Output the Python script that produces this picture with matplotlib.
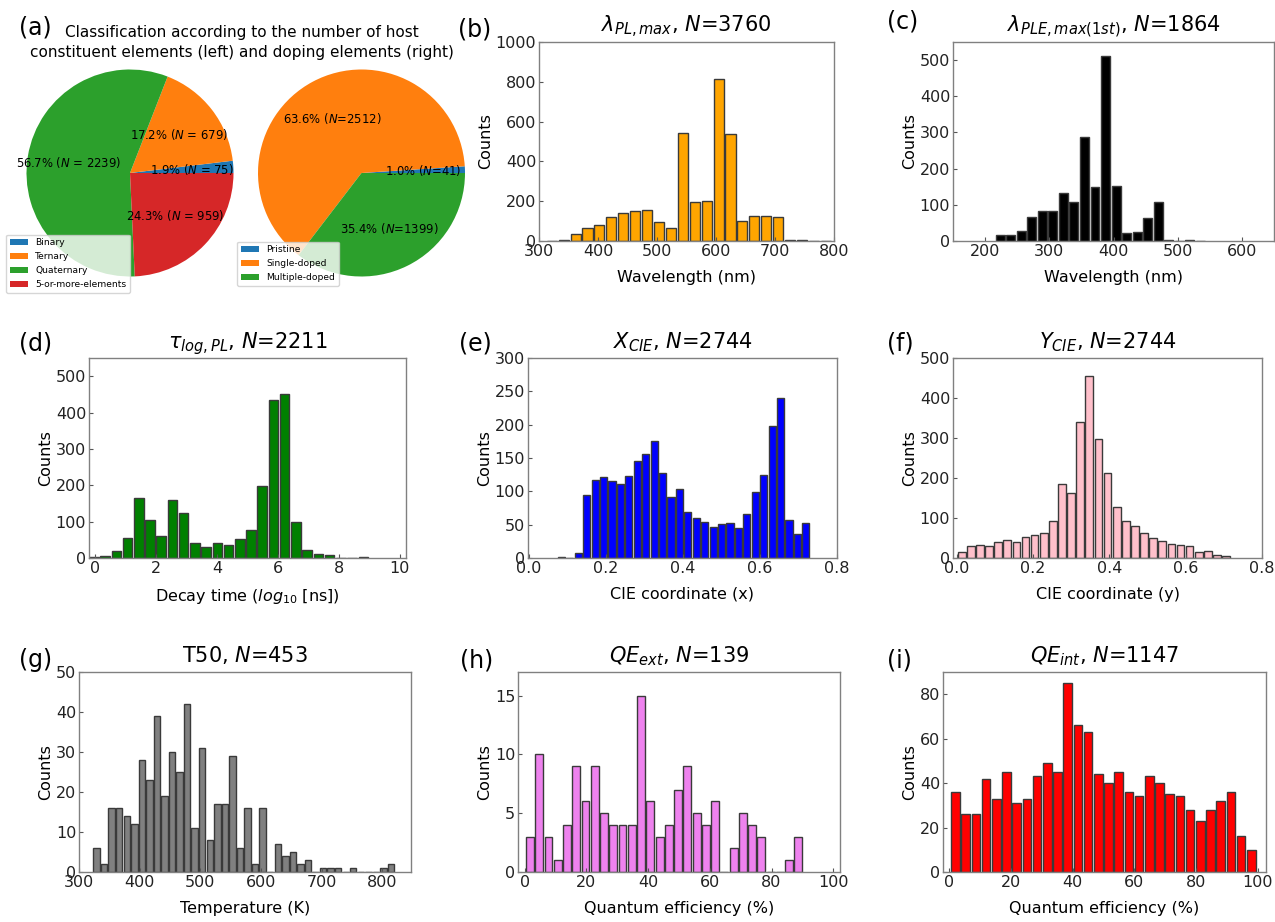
import numpy as np
import matplotlib
matplotlib.use("Agg")
import matplotlib.pyplot as plt

# (a) pie data
host_labels = ["Binary", "Ternary", "Quaternary", "5-or-more-elements"]
host_counts = [75, 679, 2239, 959]
dope_labels = ["Pristine", "Single-doped", "Multiple-doped"]
dope_counts = [41, 2512, 1399]

# histogram counts (bin start, bin width, counts)
pl_start, pl_width = 311.5, 20.2
pl_counts = [2, 5, 33, 63, 80, 120, 142, 153, 157, 95, 65, 543, 196, 202, 813, 540,
             98, 127, 124, 123, 5, 3, 2, 2]

ple_start, ple_width = 215.4, 16.4
ple_counts = [17, 17, 28, 65, 84, 84, 134, 107, 287, 150, 510, 152, 21, 25, 63, 109,
              3, 0, 3, 1]

tau_start, tau_width = -0.215, 0.368
tau_counts = [3, 6, 20, 55, 165, 105, 60, 160, 125, 42, 30, 40, 35, 52, 77, 198, 435,
              452, 100, 22, 10, 7, 0, 0, 4]

cx_start, cx_width = 0.0730, 0.0219
cx_counts = [2, 0, 8, 94, 117, 122, 115, 111, 123, 145, 156, 176, 127, 92, 104, 69, 60,
             54, 47, 51, 53, 45, 66, 99, 124, 198, 240, 57, 36, 53]

cy_start, cy_width = 0.0008, 0.0239
cy_counts = [14, 30, 33, 29, 41, 45, 41, 52, 58, 62, 93, 185, 163, 340, 455, 297, 212,
             128, 93, 79, 62, 50, 43, 36, 32, 29, 14, 17, 8, 4]

t50_start, t50_width = 322.7, 12.44
t50_counts = [6, 2, 16, 16, 14, 12, 28, 23, 39, 19, 30, 25, 42, 11, 31, 8, 17, 17, 29, 6,
              16, 2, 16, 0, 7, 4, 5, 2, 3, 0, 1, 1, 1, 0, 1, 0, 0, 0, 1, 2]

qext_start, qext_width = 0.2, 3.0
qext_counts = [3, 10, 3, 1, 4, 9, 6, 9, 5, 4, 4, 4, 15, 6, 3, 4, 7, 9, 5, 4, 6, 0, 2, 5,
               4, 3, 0, 0, 1, 3]

qint_start, qint_width = 0.29, 3.31
qint_counts = [36, 26, 26, 42, 33, 45, 31, 33, 43, 49, 45, 85, 66, 63, 44, 40, 45, 36, 34,
               43, 40, 35, 34, 28, 23, 28, 32, 36, 16, 10]

W, H = 1275, 922
fig = plt.figure(figsize=(W / 100, H / 100), dpi=100)


def px_axes(x0, y0, x1, y1):
    return fig.add_axes([x0 / W, 1 - y1 / H, (x1 - x0) / W, (y1 - y0) / H])


def panel_label(x, y, s):
    fig.text(x / W, 1 - y / H, s, fontsize=17, ha="left", va="center")


def hist_panel(box, start, width, counts, color, title, xlabel, xlim, ylim, xticks, yticks):
    ax = px_axes(*box)
    n = len(counts)
    centers = start + width * (np.arange(n) + 0.5)
    ax.bar(centers, counts, width=width * 0.85, color=color,
           edgecolor="#3a3a3a", linewidth=1.0)
    ax.set_xlim(*xlim)
    ax.set_ylim(*ylim)
    ax.set_xticks(xticks)
    ax.set_yticks(yticks)
    ax.set_title(title, fontsize=15, pad=7)
    ax.set_xlabel(xlabel, fontsize=11.5, labelpad=8)
    ax.set_ylabel("Counts", fontsize=11.5, labelpad=2)
    ax.tick_params(direction="in", length=3, color="#555555", labelsize=11.5,
                   labelcolor="#222222", pad=2)
    for sp in ax.spines.values():
        sp.set_color("#808080")
        sp.set_linewidth(1.0)
    return ax


# (a) pies
def pie_fmt(total, spaced):
    def f(pct):
        n = int(round(pct * total / 100.0))
        if spaced:
            return "%.1f%% ($N$ = %d)" % (pct, n)
        return "%.1f%% ($N$=%d)" % (pct, n)
    return f


ax1 = px_axes(26.5, 69.5, 233.5, 276.5)
w1, _, _ = ax1.pie(host_counts, startangle=0, autopct=pie_fmt(sum(host_counts), True),
                   pctdistance=0.6, textprops={"fontsize": 8.4})
ax1.set_xlim(-1, 1)
ax1.set_ylim(-1, 1)
ax1.set_aspect("equal")
fig.legend(w1, host_labels, loc="lower left", bbox_to_anchor=(6 / W, 1 - 293 / H),
           bbox_transform=fig.transFigure, fontsize=6.6, borderaxespad=0,
           handlelength=2.0, labelspacing=0.55)

ax2 = px_axes(258, 69.5, 465, 276.5)
w2, _, _ = ax2.pie(dope_counts, startangle=0, autopct=pie_fmt(sum(dope_counts), False),
                   pctdistance=0.6, textprops={"fontsize": 8.4})
ax2.set_xlim(-1, 1)
ax2.set_ylim(-1, 1)
ax2.set_aspect("equal")
fig.legend(w2, dope_labels, loc="lower left", bbox_to_anchor=(237 / W, 1 - 286 / H),
           bbox_transform=fig.transFigure, fontsize=6.6, borderaxespad=0,
           handlelength=2.0, labelspacing=0.55)

fig.text(242 / W, 1 - 32 / H, "Classification according to the number of host",
         fontsize=11, ha="center", va="center")
fig.text(242 / W, 1 - 53 / H, "constituent elements (left) and doping elements (right)",
         fontsize=11, ha="center", va="center")

# histograms
hist_panel((539, 42, 834, 241), pl_start, pl_width, pl_counts, "orange",
           r"$\lambda_{PL,max}$, $N$=3760", "Wavelength (nm)",
           (300, 800), (0, 1000), range(300, 801, 100), range(0, 1001, 200))
hist_panel((953, 42, 1274, 241), ple_start, ple_width, ple_counts, "black",
           r"$\lambda_{PLE,max(1st)}$, $N$=1864", "Wavelength (nm)",
           (150, 650), (0, 550), range(200, 601, 100), range(0, 501, 100))
hist_panel((89, 358, 406, 558), tau_start, tau_width, tau_counts, "green",
           r"$\tau_{log,PL}$, $N$=2211", r"Decay time ($log_{10}$ [ns])",
           (-0.19, 10.2), (0, 550), range(0, 11, 2), range(0, 501, 100))
hist_panel((528, 358, 837, 558), cx_start, cx_width, cx_counts, "blue",
           r"$X_{CIE}$, $N$=2744", "CIE coordinate (x)",
           (-0.003, 0.8), (0, 300), np.arange(0, 0.81, 0.2), range(0, 301, 50))
hist_panel((953, 358, 1262, 558), cy_start, cy_width, cy_counts, "pink",
           r"$Y_{CIE}$, $N$=2744", "CIE coordinate (y)",
           (-0.01, 0.8), (0, 500), np.arange(0, 0.81, 0.2), range(0, 501, 100))
hist_panel((79, 672, 411, 872), t50_start, t50_width, t50_counts, "gray",
           r"T50, $N$=453", "Temperature (K)",
           (300, 847), (0, 50), range(300, 801, 100), range(0, 51, 10))
hist_panel((518, 672, 840, 872), qext_start, qext_width, qext_counts, "violet",
           r"$QE_{ext}$, $N$=139", "Quantum efficiency (%)",
           (-2.2, 102.2), (0, 17), range(0, 101, 20), range(0, 16, 5))
hist_panel((943, 672, 1266, 872), qint_start, qint_width, qint_counts, "red",
           r"$QE_{int}$, $N$=1147", "Quantum efficiency (%)",
           (-2.1, 102.7), (0, 90), range(0, 101, 20), range(0, 81, 20))

panel_label(19, 28, "(a)")
panel_label(458, 30, "(b)")
panel_label(887, 22, "(c)")
panel_label(19, 343, "(d)")
panel_label(459, 343, "(e)")
panel_label(887, 343, "(f)")
panel_label(19, 660, "(g)")
panel_label(460, 660, "(h)")
panel_label(887, 660, "(i)")

fig.savefig("out.png", dpi=100)
